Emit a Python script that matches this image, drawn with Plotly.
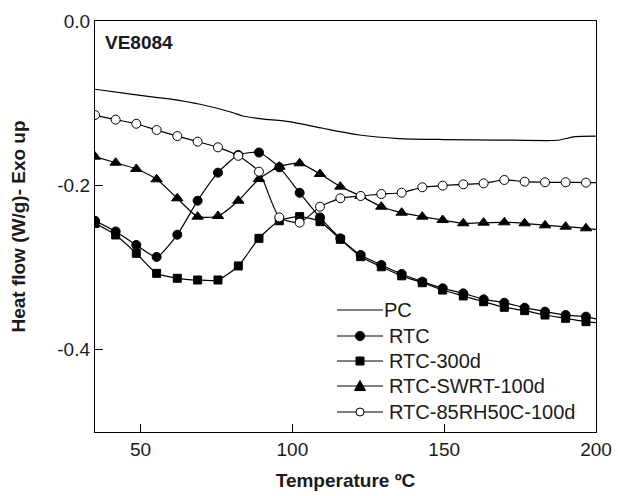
import plotly.graph_objects as go

# ---- data ----
pc_temp = [35, 45, 55, 60, 70, 80.5, 83.7, 90, 99, 110, 122, 135, 150, 168, 185, 188, 193, 200]
pc_flow = [-0.083, -0.088, -0.0928, -0.095, -0.1016, -0.1116, -0.1156, -0.119, -0.1225,
           -0.1305, -0.1387, -0.143, -0.1442, -0.1448, -0.1454, -0.1448, -0.1407, -0.140]

temp = [35.0, 41.8, 48.6, 55.3, 62.1, 68.8, 75.5, 82.2, 89.0, 95.7, 102.4, 109.1, 115.8,
        122.5, 129.3, 136.0, 142.8, 149.5, 156.3, 163.0, 169.8, 176.5, 183.2, 190.0, 196.7, 200.0]

rtc = [-0.243, -0.256, -0.2725, -0.287, -0.260, -0.2186, -0.1845, -0.163, -0.160, -0.178,
       -0.209, -0.239, -0.2644, -0.2847, -0.2968, -0.3078, -0.3171, -0.3252, -0.3313,
       -0.3386, -0.3427, -0.3488, -0.3536, -0.3577, -0.3597, -0.3625]

rtc_300d = [-0.2462, -0.2603, -0.2826, -0.307, -0.313, -0.3151, -0.3151, -0.298, -0.2644,
            -0.243, -0.238, -0.2441, -0.2656, -0.2867, -0.299, -0.310, -0.3184, -0.3273,
            -0.3345, -0.3415, -0.3483, -0.3524, -0.3577, -0.3617, -0.3658, -0.367]

rtc_swrt = [-0.165, -0.1724, -0.180, -0.1926, -0.2157, -0.238, -0.2372, -0.2186, -0.1922,
            -0.1772, -0.1731, -0.1861, -0.2015, -0.2129, -0.2259, -0.2332, -0.238, -0.2421,
            -0.2461, -0.2453, -0.2449, -0.2461, -0.2486, -0.2502, -0.2522, -0.2535]

rtc_85rh = [-0.1144, -0.120, -0.125, -0.1326, -0.140, -0.1468, -0.1537, -0.164, -0.1833,
            -0.2389, -0.2453, -0.2259, -0.2157, -0.2129, -0.2105, -0.2089, -0.2023, -0.2003,
            -0.1987, -0.1975, -0.1934, -0.1955, -0.1962, -0.1962, -0.1966, -0.1966]

x_ticks = [50, 100, 150, 200]
y_ticks = [0.0, -0.2, -0.4]
y_tick_labels = ["0.0", "-0.2", "-0.4"]

series_names = ["PC", "RTC", "RTC-300d", "RTC-SWRT-100d", "RTC-85RH50C-100d"]

FONT = "Liberation Sans, Arial, sans-serif"
INK = "#1a1a1a"

# layout geometry (pixels)
W, H = 618, 496
ML, MR, MT, MB = 95, 22, 21, 64
PW, PH = W - ML - MR, H - MT - MB


def px_x(p):
    return (p - ML) / PW


def px_y(p):
    return (H - MB - p) / PH


fig = go.Figure()

line_style = dict(color="black", width=1.2, shape="spline", smoothing=0.6)

fig.add_trace(go.Scatter(x=pc_temp, y=pc_flow, name=series_names[0], mode="lines",
                         line=line_style, showlegend=False))

marker_defs = [
    (rtc, "circle", 9, "black"),
    (rtc_300d, "square", 8, "black"),
    (rtc_swrt, "triangle-up", 10, "black"),
    (rtc_85rh, "circle", 9, "white"),
]
for (vals, sym, sz, fill), name in zip(marker_defs, series_names[1:]):
    fig.add_trace(go.Scatter(x=temp, y=vals, name=name, mode="lines",
                             line=line_style, showlegend=False))
    fig.add_trace(go.Scatter(x=temp[:-1], y=vals[:-1], name=name, mode="markers",
                             marker=dict(symbol=sym, size=sz, color=fill,
                                         line=dict(color="black", width=1)),
                             showlegend=False))

# ---- manual legend (decoration in paper coordinates) ----
shapes = []
annotations = []
row_y = [310, 336, 361, 386, 412]
line_x0, line_x1, mark_x = 337, 383, 360
text_x = [382, 387, 387, 387, 387]
for i, name in enumerate(series_names):
    yy = row_y[i]
    shapes.append(dict(type="line", xref="paper", yref="paper",
                       x0=px_x(line_x0), x1=px_x(line_x1), y0=px_y(yy), y1=px_y(yy),
                       line=dict(color="black", width=1.2)))
    annotations.append(dict(text=name, xref="paper", yref="paper", x=px_x(text_x[i]),
                            y=px_y(yy), xanchor="left", yanchor="middle", showarrow=False,
                            font=dict(family=FONT, size=20, color=INK)))
# markers of the legend
r = 4.6
shapes.append(dict(type="circle", xref="paper", yref="paper",
                   x0=px_x(mark_x - r), x1=px_x(mark_x + r),
                   y0=px_y(row_y[1] + r), y1=px_y(row_y[1] - r),
                   fillcolor="black", line=dict(color="black", width=1)))
s = 4.0
shapes.append(dict(type="rect", xref="paper", yref="paper",
                   x0=px_x(mark_x - s), x1=px_x(mark_x + s),
                   y0=px_y(row_y[2] + s), y1=px_y(row_y[2] - s),
                   fillcolor="black", line=dict(color="black", width=1)))
ty = row_y[3]
tri = "M {:.5f},{:.5f} L {:.5f},{:.5f} L {:.5f},{:.5f} Z".format(
    px_x(mark_x - 5.5), px_y(ty + 4.5), px_x(mark_x + 5.5), px_y(ty + 4.5),
    px_x(mark_x), px_y(ty - 5.5))
shapes.append(dict(type="path", xref="paper", yref="paper", path=tri,
                   fillcolor="black", line=dict(color="black", width=1)))
r2 = 4.0
shapes.append(dict(type="circle", xref="paper", yref="paper",
                   x0=px_x(mark_x - r2), x1=px_x(mark_x + r2),
                   y0=px_y(row_y[4] + r2), y1=px_y(row_y[4] - r2),
                   fillcolor="white", line=dict(color="black", width=1)))

annotations.append(dict(
    text="<b>VE8084</b>", xref="paper", yref="paper", x=px_x(103), y=px_y(42),
    xanchor="left", yanchor="middle", showarrow=False,
    font=dict(family=FONT, size=19, color=INK),
))

fig.update_layout(
    width=W, height=H,
    margin=dict(l=ML, r=MR, t=MT, b=MB),
    paper_bgcolor="white", plot_bgcolor="white",
    font=dict(family=FONT, size=19, color=INK),
    showlegend=False,
    shapes=shapes,
    annotations=annotations,
    xaxis=dict(
        range=[35, 200], tickvals=x_ticks, ticks="inside", ticklen=8, tickwidth=1,
        tickcolor="black", showline=True, linecolor="black", linewidth=1.3, mirror=True,
        showgrid=False, zeroline=False, automargin=False,
        tickfont=dict(family=FONT, size=19, color=INK),
        title=dict(text="<b>Temperature ºC</b>", standoff=14,
                   font=dict(family=FONT, size=19, color=INK)),
    ),
    yaxis=dict(
        range=[-0.5, 0.0], tickvals=y_ticks, ticktext=y_tick_labels, ticks="inside",
        ticklen=8, tickwidth=1, tickcolor="black", showline=True, linecolor="black",
        linewidth=1.3, mirror=True, showgrid=False, zeroline=False, automargin=False,
        tickfont=dict(family=FONT, size=19, color=INK),
        title=dict(text="<b>Heat flow (W/g)- Exo up</b>", standoff=26,
                   font=dict(family=FONT, size=19, color=INK)),
    ),
)

fig.write_html("out.html")
